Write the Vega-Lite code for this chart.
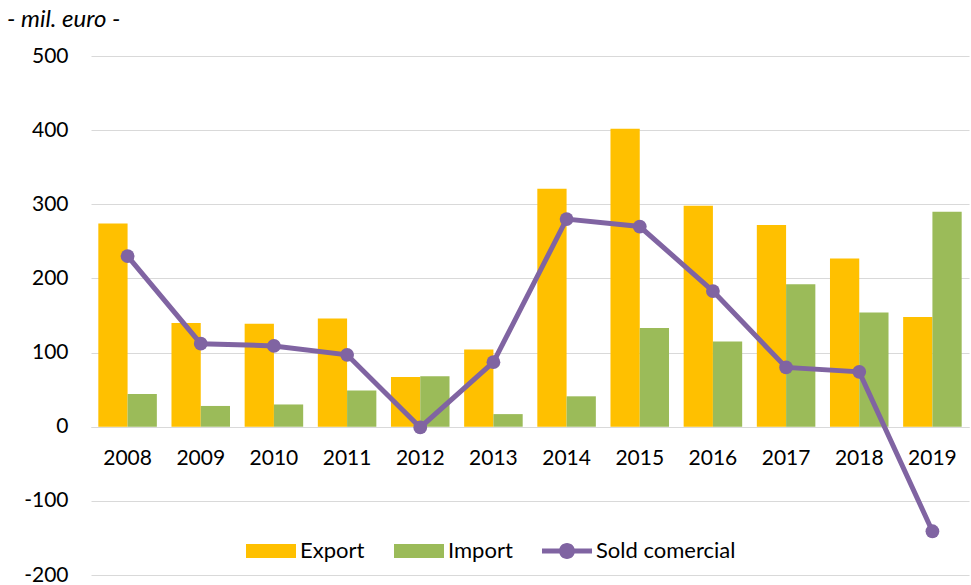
{
  "$schema": "https://vega.github.io/schema/vega-lite/v6.json",
  "width": 878,
  "height": 519,
  "autosize": {"type": "none"},
  "padding": {"left": 91, "top": 56, "right": 2, "bottom": 10},
  "background": "white",
  "config": {
    "view": {"stroke": null},
    "font": "Lato"
  },
  "title": {
    "text": "- mil. euro -",
    "anchor": "start",
    "frame": "group",
    "fontStyle": "italic",
    "fontWeight": "normal",
    "fontSize": 24,
    "color": "#000000",
    "dx": -84,
    "offset": 13
  },
  "data": {
    "values": [
      {"year": "2008", "series": "Export", "value": 274},
      {"year": "2008", "series": "Import", "value": 44},
      {"year": "2008", "series": "Sold comercial", "value": 230},
      {"year": "2009", "series": "Export", "value": 140},
      {"year": "2009", "series": "Import", "value": 28},
      {"year": "2009", "series": "Sold comercial", "value": 112},
      {"year": "2010", "series": "Export", "value": 139},
      {"year": "2010", "series": "Import", "value": 30},
      {"year": "2010", "series": "Sold comercial", "value": 109},
      {"year": "2011", "series": "Export", "value": 146},
      {"year": "2011", "series": "Import", "value": 49},
      {"year": "2011", "series": "Sold comercial", "value": 97},
      {"year": "2012", "series": "Export", "value": 67},
      {"year": "2012", "series": "Import", "value": 68},
      {"year": "2012", "series": "Sold comercial", "value": -1},
      {"year": "2013", "series": "Export", "value": 104},
      {"year": "2013", "series": "Import", "value": 17},
      {"year": "2013", "series": "Sold comercial", "value": 87},
      {"year": "2014", "series": "Export", "value": 321},
      {"year": "2014", "series": "Import", "value": 41},
      {"year": "2014", "series": "Sold comercial", "value": 280},
      {"year": "2015", "series": "Export", "value": 402},
      {"year": "2015", "series": "Import", "value": 133},
      {"year": "2015", "series": "Sold comercial", "value": 270},
      {"year": "2016", "series": "Export", "value": 298},
      {"year": "2016", "series": "Import", "value": 115},
      {"year": "2016", "series": "Sold comercial", "value": 183},
      {"year": "2017", "series": "Export", "value": 272},
      {"year": "2017", "series": "Import", "value": 192},
      {"year": "2017", "series": "Sold comercial", "value": 80},
      {"year": "2018", "series": "Export", "value": 227},
      {"year": "2018", "series": "Import", "value": 154},
      {"year": "2018", "series": "Sold comercial", "value": 74},
      {"year": "2019", "series": "Export", "value": 148},
      {"year": "2019", "series": "Import", "value": 290},
      {"year": "2019", "series": "Sold comercial", "value": -141}
    ]
  },
  "layer": [
    {
      "transform": [{"filter": "datum.series !== 'Sold comercial'"}],
      "mark": {"type": "bar"},
      "encoding": {
        "x": {
          "field": "year",
          "type": "nominal",
          "scale": {"paddingInner": 0.2, "paddingOuter": 0.1},
          "axis": {
            "orient": "bottom",
            "offset": -148,
            "title": null,
            "labelAngle": 0,
            "labelFontSize": 21,
            "labelColor": "#000000",
            "labelPadding": 20,
            "ticks": false,
            "domain": true,
            "domainColor": "#d9d9d9",
            "domainWidth": 1,
            "grid": false
          }
        },
        "xOffset": {"field": "series", "type": "nominal", "sort": ["Export", "Import"]},
        "y": {
          "field": "value",
          "type": "quantitative",
          "scale": {"domain": [-200, 500], "nice": false, "zero": false},
          "axis": {
            "title": null,
            "values": [-200, -100, 0, 100, 200, 300, 400, 500],
            "labelExpr": "'' + datum.value",
            "labelFontSize": 21,
            "labelColor": "#000000",
            "labelPadding": 23,
            "ticks": false,
            "domain": false,
            "grid": true,
            "gridColor": "#d9d9d9",
            "gridWidth": 1
          }
        },
        "color": {
          "field": "series",
          "type": "nominal",
          "scale": {
            "domain": ["Export", "Import", "Sold comercial"],
            "range": ["#ffc000", "#9bbb59", "#8064a2"]
          },
          "legend": {
            "title": null,
            "orient": "none",
            "direction": "horizontal",
            "legendX": 155,
            "legendY": 470,
            "labelFontSize": 22,
            "labelColor": "#000000",
            "labelOffset": 4,
            "columnPadding": 29,
            "symbolSize": 2500,
            "encode": {
              "symbols": {
                "update": {
                  "shape": {"signal": "datum.value === 'Sold comercial' ? 'M-1,-0.1H-0.3V0.1H-1Z M0.3,-0.1H1V0.1H0.3Z M-0.32,0A0.32,0.32 0 1 1 0.32,0A0.32,0.32 0 1 1 -0.32,0Z' : 'M-1,-0.28H1V0.28H-1Z'"},
                  "fill": {"scale": "color", "field": "value"},
                  "stroke": {"value": "transparent"},
                  "strokeWidth": {"value": 0},
                  "size": {"value": 2500},
                  "opacity": {"value": 1}
                }
              }
            }
          }
        }
      }
    },
    {
      "transform": [{"filter": "datum.series === 'Sold comercial'"}],
      "mark": {"type": "line", "strokeWidth": 5, "point": {"size": 190, "filled": true, "opacity": 1}},
      "encoding": {
        "x": {"field": "year", "type": "nominal"},
        "y": {"field": "value", "type": "quantitative"},
        "color": {"field": "series", "type": "nominal"}
      }
    }
  ]
}
